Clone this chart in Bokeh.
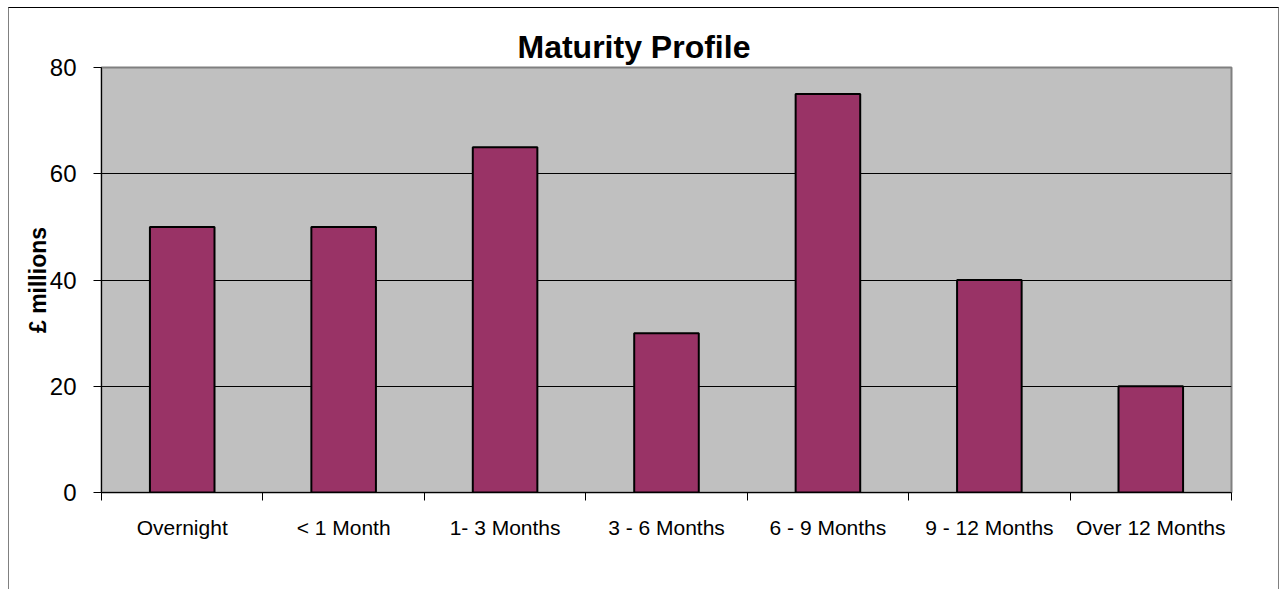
from bokeh.plotting import figure
from bokeh.models import Range1d, FixedTicker, CustomJSTickFormatter, ColumnDataSource, Title
from bokeh.embed import file_html
from bokeh.resources import INLINE

categories = ["Overnight", "< 1 Month", "1- 3 Months", "3 - 6 Months", "6 - 9 Months", "9 - 12 Months", "Over 12 Months"]
values = [50, 50, 65, 30, 75, 40, 20]
y_ticks = [0, 20, 40, 60, 80]
grid_ticks = [20, 40, 60]
title_text = "Maturity Profile"
y_label_text = "£ millions"

FONT = "Liberation Sans"
W, H = 1271, 582
Y_MAX = 80
N = len(categories)

p = figure(width=W, height=H, output_backend="svg", toolbar_location=None,
           x_range=Range1d(0, N), y_range=Range1d(0, Y_MAX),
           min_border_left=92, min_border_right=49, min_border_top=59, min_border_bottom=98)
p.styles = {"margin-left": "8px", "margin-top": "7px",
            "border-top": "1px solid #000000", "border-left": "1px solid #808080",
            "border-right": "1px solid #808080"}

src = ColumnDataSource(dict(x=[i + 0.5 for i in range(N)], top=values))
p.vbar(x="x", top="top", width=0.4, bottom=0, source=src,
       fill_color="#993366", line_color="#000000", line_width=2)

p.background_fill_color = "#c0c0c0"
p.border_fill_color = "#ffffff"
p.outline_line_color = "#808080"
p.outline_line_width = 2

# grid
p.xgrid.grid_line_color = None
p.ygrid.ticker = FixedTicker(ticks=grid_ticks)
p.ygrid.grid_line_color = "#000000"
p.ygrid.grid_line_width = 1

# x axis
xa = p.xaxis[0]
xa.ticker = FixedTicker(ticks=[i + 0.5 for i in range(N)], minor_ticks=list(range(N + 1)))
xa.formatter = CustomJSTickFormatter(args=dict(labels=categories),
                                     code="return labels[Math.floor(tick)] || '';")
xa.major_tick_out = 0
xa.major_tick_in = 0
xa.major_tick_line_color = None
xa.minor_tick_out = 8
xa.minor_tick_in = 0
xa.minor_tick_line_color = "#000000"
xa.axis_line_color = "#000000"
xa.axis_line_width = 1
xa.major_label_text_font = FONT
xa.major_label_text_font_size = "21px"
xa.major_label_text_color = "#000000"
xa.major_label_standoff = 15

# y axis
ya = p.yaxis[0]
ya.ticker = FixedTicker(ticks=y_ticks)
ya.major_tick_out = 8
ya.major_tick_in = 0
ya.major_tick_line_color = "#000000"
ya.minor_tick_line_color = None
ya.axis_line_color = "#000000"
ya.major_label_text_font = FONT
ya.major_label_text_font_size = "24px"
ya.major_label_text_color = "#000000"
ya.major_label_standoff = 17
ya.axis_label = y_label_text
ya.axis_label_text_font = FONT
ya.axis_label_text_font_size = "23px"
ya.axis_label_text_font_style = "bold"
ya.axis_label_text_color = "#000000"
ya.axis_label_standoff = -4

# title: left-aligned with an offset so it sits centred on the whole chart
p.add_layout(Title(text=title_text, align="left", offset=416, text_font=FONT,
                   text_font_size="32px", text_font_style="bold", text_color="#000000",
                   standoff=6), "above")

open("out.html", "w").write(file_html(p, INLINE))
